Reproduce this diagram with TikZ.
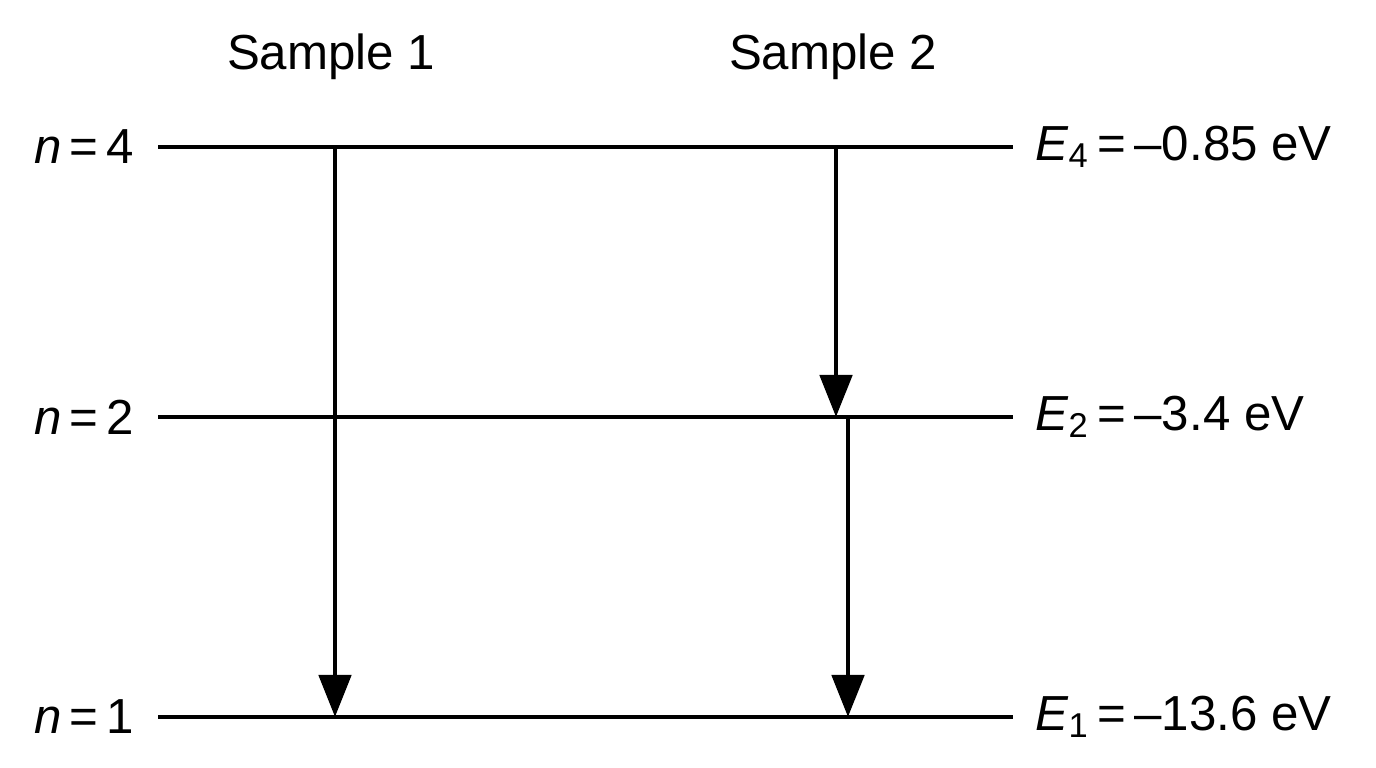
\documentclass[tikz,border=0pt]{standalone}
\usepackage{fontspec}
\setmainfont{Liberation Sans}
\usetikzlibrary{arrows.meta}
\begin{document}
\begin{tikzpicture}[x=0.01cm,y=-0.01cm,
  lvl/.style={line width=1.4pt},
  tr/.style={line width=1.4pt,-{Triangle[length=0.42cm,width=0.32cm]}},
  lab/.style={font=\fontsize{14pt}{16pt}\selectfont,inner sep=0pt}]
\useasboundingbox (0,0) rectangle (1376,768);
\foreach \n/\y in {4/147,2/417,1/717}{
  \coordinate (L\n) at (158,\y);
  \coordinate (R\n) at (1013,\y);
  \draw[lvl] (L\n) -- (R\n);
  \node[lab,anchor=east] (nl\n) at (135,\y) {\itshape n\upshape\,=\,\n};
}
\node[lab,anchor=west] (e4) at (1035,147) {\itshape E\upshape\textsubscript{4}\,=\,–0.85 eV};
\node[lab,anchor=west] (e2) at (1035,417) {\itshape E\upshape\textsubscript{2}\,=\,–3.4 eV};
\node[lab,anchor=west] (e1) at (1035,717) {\itshape E\upshape\textsubscript{1}\,=\,–13.6 eV};
\node[lab] (s1) at (331,57) {Sample 1};
\node[lab] (s2) at (833,57) {Sample 2};
\coordinate (a1) at (335,147); \coordinate (b1) at (335,717);
\coordinate (a2) at (836,147); \coordinate (b2) at (836,417);
\coordinate (a3) at (848,417); \coordinate (b3) at (848,717);
\draw[tr] (a1) -- (b1);
\draw[tr] (a2) -- (b2);
\draw[tr] (a3) -- (b3);
\end{tikzpicture}
\end{document}
